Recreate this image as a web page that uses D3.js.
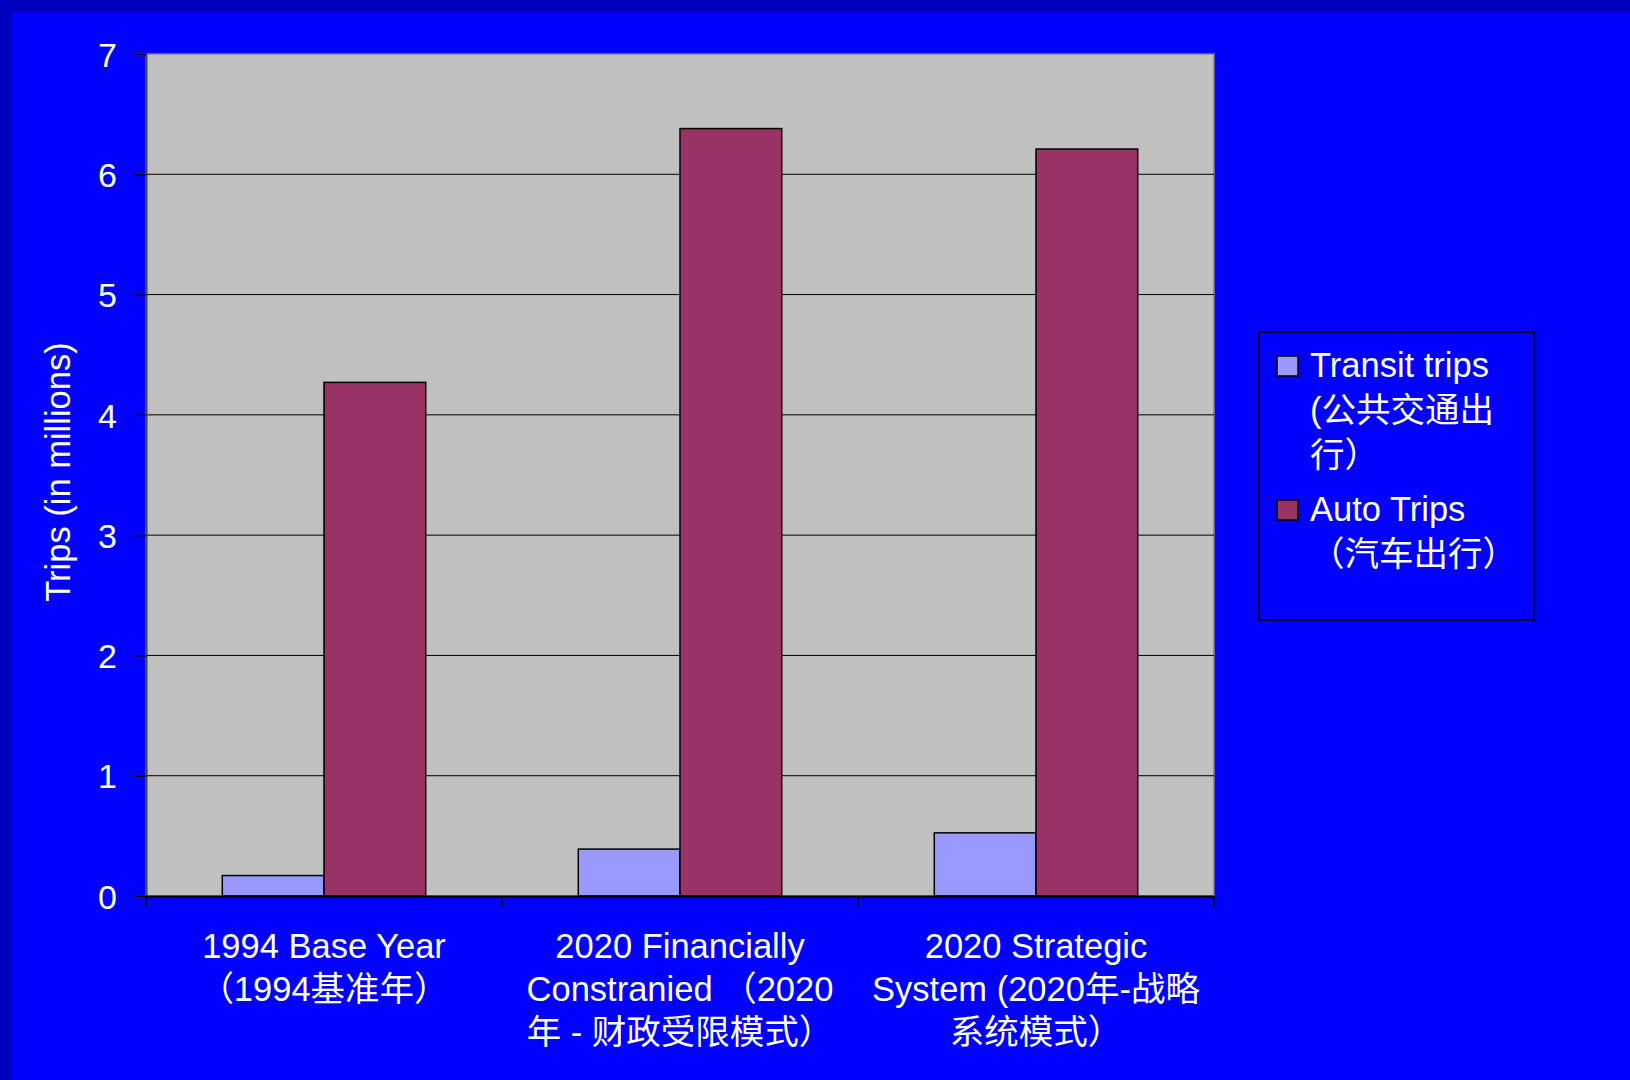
<!DOCTYPE html>
<html>
<head>
<meta charset="utf-8">
<script src="https://cdn.jsdelivr.net/npm/d3@7"></script>
<style>
  html, body { margin: 0; padding: 0; background: #0000ff; }
  svg { display: block; }
  text { font-family: "Liberation Sans", Arial, "Noto Sans CJK SC", sans-serif; fill: #fff; }
</style>
</head>
<body>
<svg id="chart" width="1630" height="1080"></svg>
<script>
// data
var categories = ["1994 Base Year", "2020 Financially Constranied", "2020 Strategic System"];
var categoryLabels = [
  ["1994 Base Year", "（1994基准年）"],
  ["2020 Financially", "Constranied （2020", "年 - 财政受限模式）"],
  ["2020 Strategic", "System (2020年-战略", "系统模式）"]
];
var seriesNames = ["Transit trips", "Auto Trips"];
var legendLabels = [
  ["Transit trips", "(公共交通出", "行）"],
  ["Auto Trips", "（汽车出行）"]
];
var transitTrips = [0.17, 0.39, 0.525];
var autoTrips = [4.27, 6.38, 6.21];
var yTicks = [0, 1, 2, 3, 4, 5, 6, 7];
var seriesColors = ["#9999ff", "#993366"];

var svg = d3.select("#chart");

// slide background with darker top/left band
svg.append("rect").attr("x", 0).attr("y", 0).attr("width", 1630).attr("height", 1080).attr("fill", "#0000be");
svg.append("rect").attr("x", 12).attr("y", 12).attr("width", 1618).attr("height", 1068).attr("fill", "#0000ff");

var plot = {left: 146, top: 54, right: 1214, bottom: 896};

var x0 = d3.scaleBand()
  .domain(categories)
  .range([plot.left, plot.right])
  .paddingInner(0).paddingOuter(0);

// gap width 150%: two bars fill 2/3.5 of each band
var x1 = d3.scaleBand()
  .domain(seriesNames)
  .range([0, x0.bandwidth() * 2 / 3.5]);
var groupOffset = x0.bandwidth() * 0.75 / 3.5;

var y = d3.scaleLinear().domain([0, 7]).range([plot.bottom, plot.top]);

// plot area
svg.append("rect")
  .attr("x", plot.left).attr("y", plot.top)
  .attr("width", plot.right - plot.left).attr("height", plot.bottom - plot.top)
  .attr("fill", "#c0c0c0").attr("stroke", "#808080").attr("stroke-width", 1.5);

// gridlines
svg.append("g")
  .selectAll("line")
  .data(yTicks.filter(function(d){ return d > 0 && d < 7; }))
  .enter().append("line")
    .attr("x1", plot.left).attr("x2", plot.right)
    .attr("y1", function(d){ return y(d); }).attr("y2", function(d){ return y(d); })
    .attr("stroke", "#000").attr("stroke-width", 1);

// bars
var rows = categories.map(function(c, i){
  return [{cat: c, s: seriesNames[0], v: transitTrips[i]}, {cat: c, s: seriesNames[1], v: autoTrips[i]}];
});

var groups = svg.append("g").selectAll("g.grp")
  .data(rows)
  .enter().append("g")
    .attr("class", "grp")
    .attr("transform", function(d){ return "translate(" + (x0(d[0].cat) + groupOffset) + ",0)"; });

groups.selectAll("rect")
  .data(function(d){ return d; })
  .enter().append("rect")
    .attr("x", function(d){ return x1(d.s); })
    .attr("y", function(d){ return y(d.v); })
    .attr("width", x1.bandwidth())
    .attr("height", function(d){ return y(0) - y(d.v); })
    .attr("fill", function(d, i){ return seriesColors[i]; })
    .attr("stroke", "#000").attr("stroke-width", 1.5);

// y axis
var yAxis = svg.append("g")
  .attr("transform", "translate(" + plot.left + ",0)")
  .call(d3.axisLeft(y).tickValues(yTicks).tickSize(11).tickPadding(18).tickFormat(d3.format("d")));
yAxis.select(".domain").attr("stroke", "#404040").attr("stroke-width", 2);
yAxis.selectAll(".tick line").attr("stroke", "#000").attr("stroke-width", 1.5);
yAxis.selectAll(".tick text")
  .style("font-size", "34px")
  .attr("fill", "#fff")
  .attr("dy", "0.36em")
  .style("font-family", "Liberation Sans, Arial, sans-serif");

// x axis
var xAxis = svg.append("g")
  .attr("transform", "translate(0," + plot.bottom + ")")
  .call(d3.axisBottom(x0).tickSize(0).tickFormat(""));
xAxis.select(".domain").attr("stroke", "#000").attr("stroke-width", 2);
xAxis.selectAll(".tick").remove();

// category boundary ticks
var bounds = categories.map(function(c){ return x0(c); }).concat([plot.right]);
xAxis.selectAll("line.bt")
  .data(bounds)
  .enter().append("line")
    .attr("class", "bt")
    .attr("x1", function(d){ return d; }).attr("x2", function(d){ return d; })
    .attr("y1", 0).attr("y2", 11)
    .attr("stroke", "#000").attr("stroke-width", 1.5);

// category labels
var catLabels = svg.append("g").selectAll("text.cat")
  .data(categories)
  .enter().append("text")
    .attr("class", "cat")
    .attr("text-anchor", "middle")
    .attr("x", function(d){ return x0(d) + x0.bandwidth() / 2; })
    .attr("y", 958)
    .style("font-size", "34.5px");

catLabels.selectAll("tspan")
  .data(function(d, i){ return categoryLabels[i]; })
  .enter().append("tspan")
    .attr("x", function(){ return d3.select(this.parentNode).attr("x"); })
    .attr("dy", function(d, i){ return i === 0 ? 0 : 43; })
    .text(function(d){ return d; });

// y axis title
svg.append("text")
  .attr("transform", "translate(70," + ((plot.top + plot.bottom) / 2 - 3) + ") rotate(-90)")
  .attr("text-anchor", "middle")
  .style("font-size", "34.5px")
  .text("Trips (in millions)");

// legend
var legend = svg.append("g").attr("transform", "translate(1259,332)");
legend.append("rect")
  .attr("x", 0).attr("y", 0).attr("width", 275).attr("height", 288)
  .attr("fill", "#0000ff").attr("stroke", "#000").attr("stroke-width", 1.5);

var legendTop = [45, 189];
var items = legend.selectAll("g.item")
  .data(seriesNames)
  .enter().append("g")
    .attr("class", "item")
    .attr("transform", function(d, i){ return "translate(0," + legendTop[i] + ")"; });

items.append("rect")
  .attr("x", 18).attr("y", -21).attr("width", 21).attr("height", 20)
  .attr("fill", function(d, i){ return seriesColors[i]; })
  .attr("stroke", "#000").attr("stroke-width", 1.5);

items.append("text")
  .attr("x", 51).attr("y", 0)
  .style("font-size", "34.5px")
  .selectAll("tspan")
  .data(function(d, i){ return legendLabels[i]; })
  .enter().append("tspan")
    .attr("x", 51)
    .attr("dy", function(d, i){ return i === 0 ? 0 : 45; })
    .text(function(d){ return d; });
</script>
</body>
</html>
